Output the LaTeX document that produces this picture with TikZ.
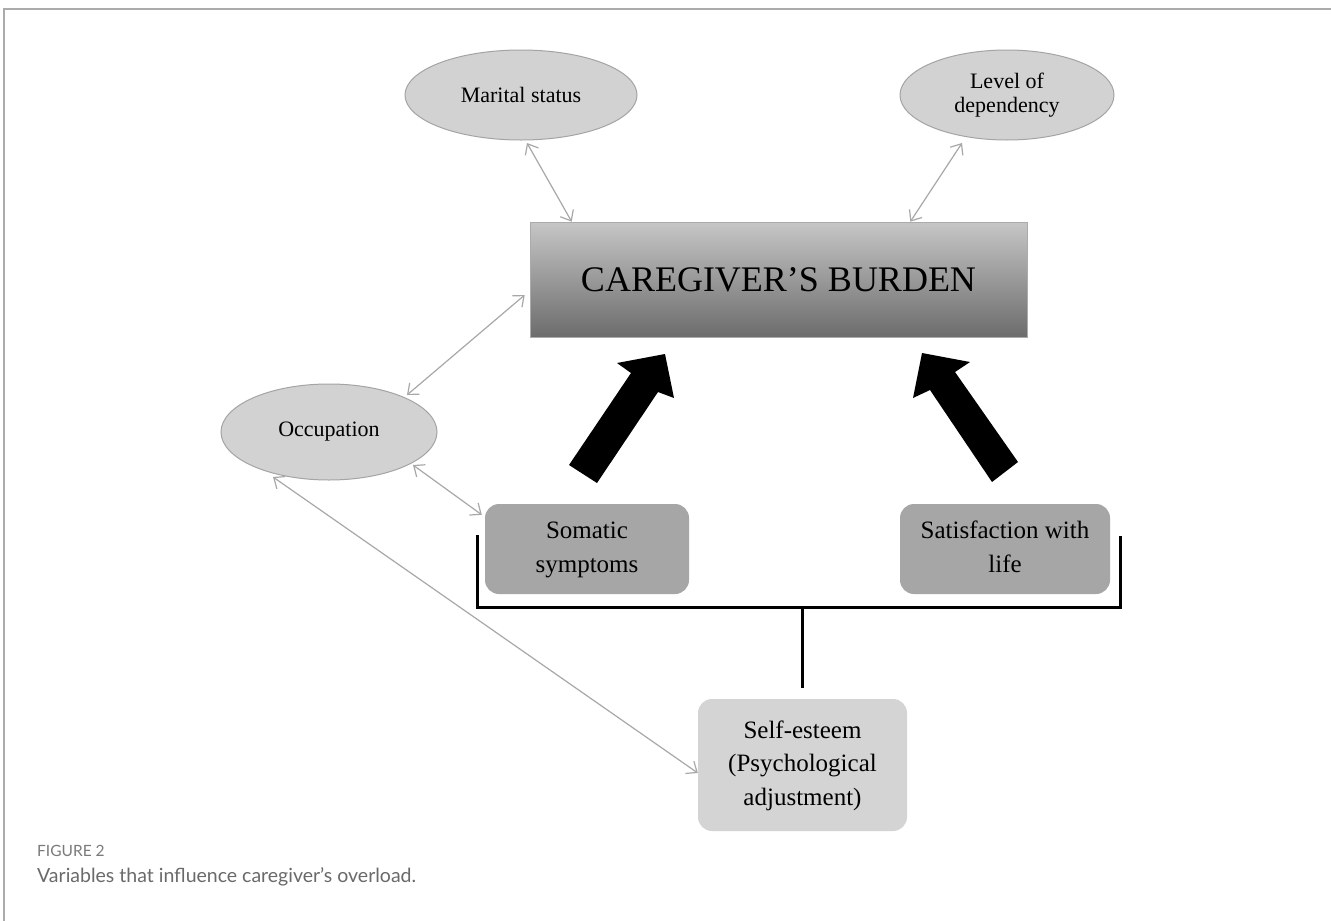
\documentclass[tikz,border=0pt]{standalone}
\usepackage{fontspec}
\setmainfont{Liberation Serif}
\newfontfamily\capfont{Lato}
\usetikzlibrary{shapes.geometric,arrows.meta,calc}
\definecolor{framegray}{HTML}{ABABAB}
\definecolor{ellfill}{HTML}{D2D2D2}
\definecolor{ellline}{HTML}{A4A4A4}
\definecolor{darkbox}{HTML}{A6A6A6}
\definecolor{lightbox}{HTML}{D4D4D4}
\definecolor{topg}{HTML}{C6C6C6}
\definecolor{midg}{HTML}{A2A2A2}
\definecolor{botg}{HTML}{6C6C6C}
\definecolor{thinarrow}{HTML}{A8A8A8}
\definecolor{captxt}{HTML}{6A6A6A}
\definecolor{figtxt}{HTML}{7A7A7A}
\tikzset{
  ell/.style={ellipse, fill=ellfill, draw=ellline, line width=1pt, inner sep=0pt, align=center, font=\fontsize{22}{24}\selectfont},
  rbox/.style={rectangle, rounded corners=14pt, inner sep=0pt, align=center, font=\fontsize{25}{33.5}\selectfont},
  dbl/.style={draw=thinarrow, line width=1.2pt, {Straight Barb[length=9pt,width=15pt]}-{Straight Barb[length=9pt,width=15pt]}},
  brk/.style={draw=black, line width=3pt},
  bigarrow/.style={fill=black}
}
\begin{document}
\begin{tikzpicture}[x=1pt,y=-1pt]
\useasboundingbox (0,0) rectangle (1331,921);
\fill[white] (0,0) rectangle (1331,921);
% frame
\draw[framegray, line width=1.5pt] (4,921) -- (4,9) -- (1331,9);

% nodes
\node[ell, minimum width=232pt, minimum height=90pt] (mar) at (521,95) {Marital status};
\node[ell, minimum width=214pt, minimum height=90pt] (lev) at (1007,95) {Level of\\dependency};
\node[ell, minimum width=216pt, minimum height=96pt] (occ) at (329,432) {Occupation};

\node[rectangle, minimum width=497pt, minimum height=115pt, inner sep=0pt,
      top color=topg, middle color=midg, bottom color=botg, draw=framegray, line width=0.6pt,
      font=\fontsize{36}{40}\selectfont] (cb) at (778.5,279.5) {CAREGIVER’S BURDEN};

\node[rbox, fill=darkbox, minimum width=204pt, minimum height=90pt] (som) at (587,549) {\strut Somatic\\\strut symptoms};
\node[rbox, fill=darkbox, minimum width=210pt, minimum height=90pt] (sat) at (1005,549) {\strut Satisfaction with\\\strut life};
\node[rbox, fill=lightbox, minimum width=209pt, minimum height=132pt] (self) at (802.5,765) {\strut Self-esteem\\\strut (Psychological\\\strut adjustment)};

% thin double arrows
\draw[dbl] ($(mar.center)+(6,48)$) -- ($(cb.north west)+(42,0)$);
\draw[dbl] ($(lev.center)+(-45,48)$) -- ($(cb.north east)+(-117,0)$);
\draw[dbl] ($(cb.west)+(-5,15.5)$) -- ($(occ.center)+(78,-37)$);
\draw[dbl] ($(occ.center)+(84,33)$) -- ($(som.north west)+(-3,11)$);
\draw[dbl] ($(occ.center)+(-56,45)$) -- ($(self.west)+(0,8)$);

% big block arrows
\fill[bigarrow] (569,465) -- (631,373) -- (617,363) -- (665,354) -- (674,398) -- (658,392) -- (597,483) -- cycle;
\fill[bigarrow] (1018,462) -- (955,372) -- (970,362) -- (922,353) -- (913,398) -- (930,390) -- (992,482) -- cycle;

% bracket
\coordinate (bl) at (477,535);
\coordinate (br) at (1120,536);
\coordinate (jn) at (802.5,607);
\draw[brk] (bl) -- (bl |- jn) -- (br |- jn) -- (br);
\draw[brk] (jn) -- ($(self.north)+(0,-11)$);

% caption
\node[anchor=base west, inner sep=0pt, text=figtxt, font=\capfont\fontsize{15.5}{18}\selectfont] (fig) at (37,856) {FIGURE 2};
\node[anchor=base west, inner sep=0pt, text=captxt, font=\capfont\fontsize{19.5}{22}\selectfont] (cap) at (37,882) {Variables that influence caregiver’s overload.};
\end{tikzpicture}
\end{document}
